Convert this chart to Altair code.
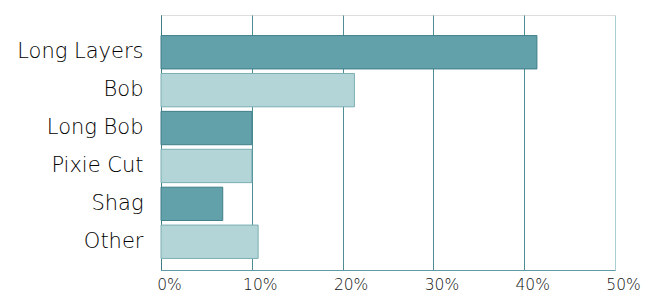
import altair as alt
import pandas as pd

styles = ["Long Layers", "Bob", "Long Bob", "Pixie Cut", "Shag", "Other"]
shares = [41.4, 21.3, 10.0, 10.0, 6.8, 10.7]
x_ticks = [0, 10, 20, 30, 40, 50]

fills = ["#62a0aa", "#b4d5d7", "#62a0aa", "#b4d5d7", "#62a0aa", "#b4d5d7"]
strokes = ["#3f7f89", "#7aaeb3", "#3f7f89", "#7aaeb3", "#3f7f89", "#7aaeb3"]

df = pd.DataFrame({"style": styles, "share": shares})

chart = alt.Chart(df).mark_bar(strokeWidth=1).encode(
    x=alt.X(
        "share:Q",
        scale=alt.Scale(domain=[0, 50], nice=False, zero=True),
        axis=alt.Axis(
            values=x_ticks,
            title=None,
            labelExpr="datum.value + '%'",
            labelFont="DejaVu Sans",
            labelFontSize=15.5,
            labelFontWeight=200,
            labelColor="#111111",
            labelOffset=8,
            labelFlush=False,
            labelPadding=7,
            tickSize=0,
            ticks=False,
            domainColor="#5f9da5",
            grid=True,
            gridColor={"condition": {"test": "datum.value === 50", "value": "#a8d0d3"}, "value": "#4e8d96"},
            gridOpacity=1,
            gridWidth=1,
        ),
    ),
    y=alt.Y(
        "style:N",
        sort=styles,
        scale=alt.Scale(paddingInner=0.12, paddingOuter=0.424, align=0.64),
        axis=alt.Axis(
            title=None,
            labelFont="DejaVu Sans",
            labelFontSize=21,
            labelFontWeight=200,
            labelColor="#000000",
            labelPadding=18,
            labelLimit=200,
            ticks=False,
            tickSize=0,
            domainColor="#3f7e87",
            grid=False,
        ),
    ),
    fill=alt.Fill("style:N", scale=alt.Scale(domain=styles, range=fills), legend=None),
    stroke=alt.Stroke("style:N", scale=alt.Scale(domain=styles, range=strokes), legend=None),
).properties(
    width=454,
    height=255,
    padding={"left": 161, "top": 15, "right": 35, "bottom": 35},
    autosize=alt.AutoSizeParams(type="none"),
).configure_view(
    stroke="#a8d0d3",
    strokeWidth=1,
).configure(background="white")

chart.save("out.html", embed_options={"renderer": "svg", "actions": False})
